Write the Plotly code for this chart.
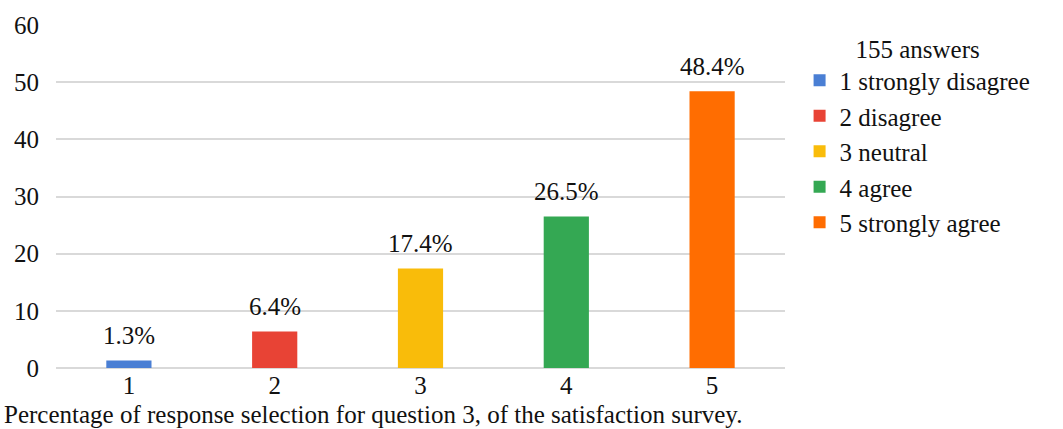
import plotly.graph_objects as go

categories = ["1", "2", "3", "4", "5"]
legend_names = ["1 strongly disagree", "2 disagree", "3 neutral", "4 agree", "5 strongly agree"]
values = [1.3, 6.4, 17.4, 26.5, 48.4]
labels = ["1.3%", "6.4%", "17.4%", "26.5%", "48.4%"]
colors = ["#4a7fd4", "#e84335", "#f9bc0a", "#34a853", "#ff6d01"]
y_ticks = [0, 10, 20, 30, 40, 50, 60]

FONT = "'Liberation Serif', 'Times New Roman', Times, serif"
FS = 25

fig = go.Figure()
for i, (cat, name, v, lab, c) in enumerate(zip(categories, legend_names, values, labels, colors)):
    fig.add_trace(go.Bar(
        x=[cat], y=[v], name=name, marker=dict(color=c, line=dict(width=0)),
        width=0.31, cliponaxis=False,
    ))
    fig.add_annotation(x=i, y=v, xref="x", yref="y", text=lab, showarrow=False,
                       yanchor="middle", yshift=25,
                       font=dict(family=FONT, size=FS, color="#111"))

fig.update_layout(
    width=1063, height=429,
    margin=dict(l=56, r=278, t=22, b=61),
    paper_bgcolor="white", plot_bgcolor="white",
    barmode="overlay",
    font=dict(family=FONT, size=FS, color="#111"),
    showlegend=True,
    legend=dict(
        x=1.02, y=1.0, xanchor="left", yanchor="top",
        title=dict(text="155 answers", side="top center", font=dict(family=FONT, size=FS)),
        font=dict(family=FONT, size=FS), itemsizing="constant",
        tracegroupgap=0, itemwidth=30,
    ),
    xaxis=dict(type="category", categoryorder="array", categoryarray=categories,
               range=[-0.5, 4.5],
               showgrid=False, showline=False, ticks="",
               tickfont=dict(family=FONT, size=FS), ticklabelstandoff=0),
    yaxis=dict(range=[0, 60], tickvals=y_ticks, showgrid=True,
               gridcolor="#d9d9d9", gridwidth=1.5, zeroline=True,
               zerolinecolor="#d9d9d9", zerolinewidth=1.5,
               tickfont=dict(family=FONT, size=FS), ticklabelstandoff=16),
)

fig.add_annotation(
    text="Percentage of response selection for question 3, of the satisfaction survey.",
    xref="paper", yref="paper", x=-54/729, y=-31/346, xanchor="left", yanchor="top",
    showarrow=False, font=dict(family=FONT, size=FS, color="#111"),
)

fig.write_html("out.html")
